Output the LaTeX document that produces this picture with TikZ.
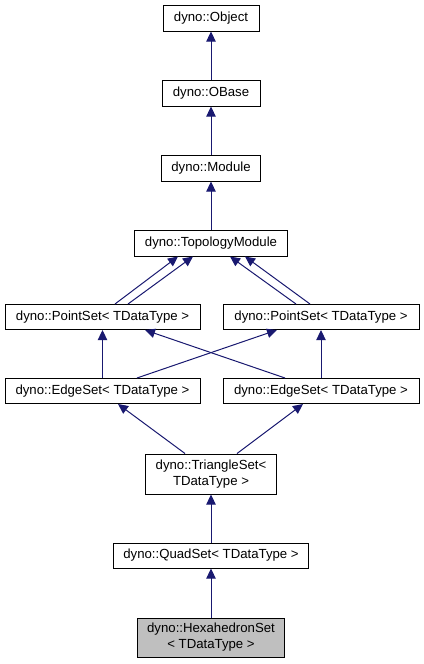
\documentclass[tikz,border=0pt]{standalone}
\usepackage{fontspec}
\setmainfont{Liberation Sans}
\usepackage{xcolor}
\usetikzlibrary{arrows.meta,calc}
\definecolor{azul}{HTML}{191970}
\definecolor{gris}{HTML}{BFBFBF}

\begin{document}
\begin{tikzpicture}[
  x=0.75pt, y=-0.75pt,
  clase/.style={draw=black, fill=white, align=center, font=\fontsize{9.9}{12}\selectfont, inner sep=1pt, line width=0.75pt},
  actual/.style={clase, fill=gris},
  hereda/.style={-{Triangle[length=7.5pt, width=7pt]}, azul, line width=0.75pt}
]
\useasboundingbox (0,0) rectangle (424,664);
% cadena base
\node[clase, minimum width=72pt, minimum height=19.5pt] (obj) at (211,18) {dyno::Object};
\node[clase, minimum width=73.5pt, minimum height=19.5pt] (obase) at (211,93) {dyno::OBase};
\node[clase, minimum width=74.25pt, minimum height=19.5pt] (mod) at (211,168) {dyno::Module};
\node[clase, minimum width=114.75pt, minimum height=19.5pt] (topo) at (211,243) {dyno::TopologyModule};

% conjuntos
\node[clase, minimum width=146.25pt, minimum height=18.75pt] (psl) at (102.5,317) {dyno::PointSet\textless{} TDataType \textgreater{}};
\node[clase, minimum width=147pt, minimum height=18.75pt] (psr) at (321,317) {dyno::PointSet\textless{} TDataType \textgreater{}};
\node[clase, minimum width=146.25pt, minimum height=18.75pt] (esl) at (102.5,391) {dyno::EdgeSet\textless{} TDataType \textgreater{}};
\node[clase, minimum width=147pt, minimum height=18.75pt] (esr) at (321,391) {dyno::EdgeSet\textless{} TDataType \textgreater{}};
\node[clase, minimum width=98.25pt, minimum height=30pt] (tri) at (211,474) {dyno::TriangleSet\textless{}\\TDataType \textgreater{}};
\node[clase, minimum width=146.25pt, minimum height=18.75pt] (quad) at (211,555.5) {dyno::QuadSet\textless{} TDataType \textgreater{}};
\node[actual, minimum width=110.25pt, minimum height=29.25pt] (hexa) at (211,637.5) {dyno::HexahedronSet\\\textless{} TDataType \textgreater{}};

\draw[hereda] (obase) -- (obj);
\draw[hereda] (mod) -- (obase);
\draw[hereda] (topo) -- (mod);
\draw[hereda] ($(psl.north)+(12.5,0)$) -- ($(topo.south)+(-33,0)$);
\draw[hereda] ($(psl.north)+(25.5,0)$) -- ($(topo.south)+(-18,0)$);
\draw[hereda] ($(psr.north)+(-25,0)$) -- ($(topo.south)+(19,0)$);
\draw[hereda] ($(psr.north)+(-11,0)$) -- ($(topo.south)+(34,0)$);
\draw[hereda] (esl) -- (psl);
\draw[hereda] (esr) -- (psr);
\draw[hereda] ($(esl.north)+(34.5,0)$) -- ($(psr.south)+(-44,0)$);
\draw[hereda] ($(esr.north)+(-36,0)$) -- ($(psl.south)+(42.5,0)$);
\draw[hereda] ($(tri.north)+(-26,0)$) -- ($(esl.south)+(15.5,0)$);
\draw[hereda] ($(tri.north)+(26,0)$) -- ($(esr.south)+(-18,0)$);
\draw[hereda] (quad) -- (tri);
\draw[hereda] (hexa) -- (quad);
\end{tikzpicture}
\end{document}
